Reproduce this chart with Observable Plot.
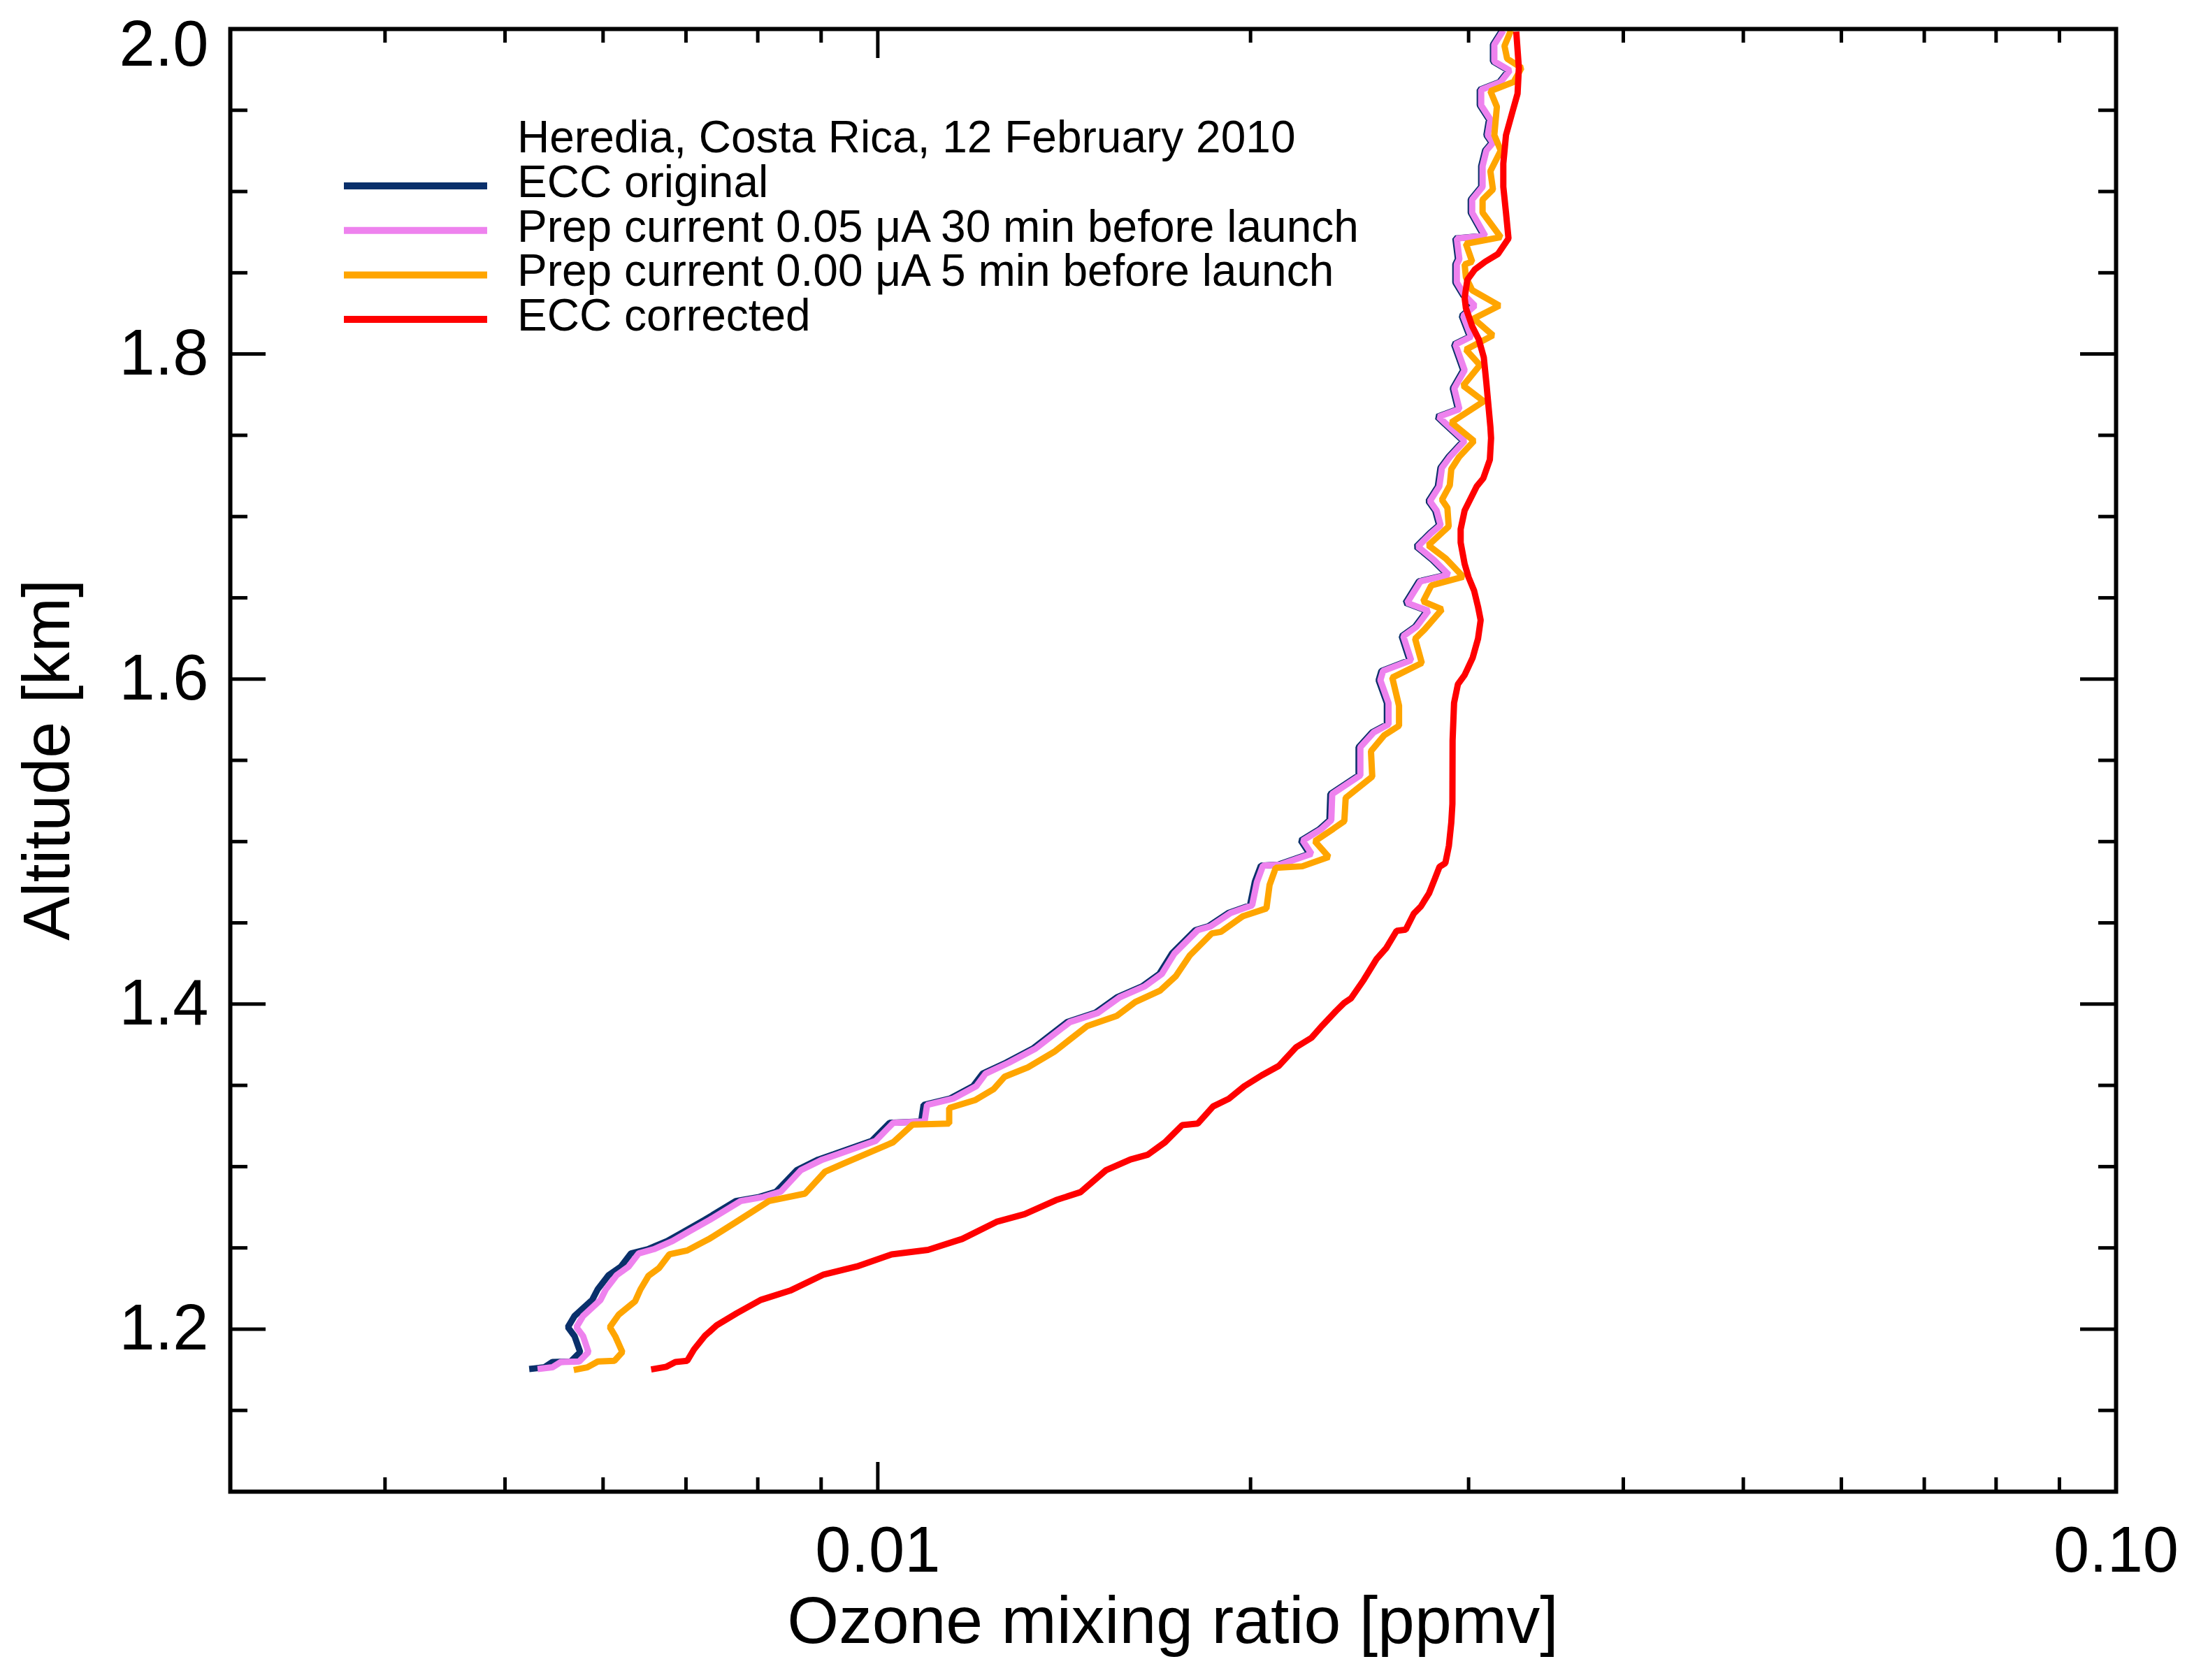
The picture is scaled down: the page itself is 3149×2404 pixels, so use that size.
<!DOCTYPE html>
<html>
<head>
<meta charset="utf-8">
<script src="https://cdn.jsdelivr.net/npm/d3@7"></script>
<script src="https://cdn.jsdelivr.net/npm/@observablehq/plot@0.6"></script>
<style>
  body { margin: 0; background: #fff; }
  #chart svg { display: block; }
</style>
</head>
<body>
<div id="chart"></div>
<script>
// altitude [km] / ozone mixing ratio [ppmv]

// ECC original and prep current 0.05 µA share the same levels
const prepAlt = [
  1.1755, 1.1765, 1.1798, 1.1801, 1.1859, 1.1957, 1.2012, 1.2081, 1.2180, 1.2245,
  1.2331, 1.2384, 1.2466, 1.2492, 1.2542, 1.2599, 1.2673, 1.2788, 1.2813, 1.2846,
  1.2978, 1.3043, 1.3077, 1.3159, 1.3269, 1.3278, 1.3380, 1.3418, 1.3495, 1.3572,
  1.3639, 1.3726, 1.3889, 1.3946, 1.4042, 1.4109, 1.4186, 1.4311, 1.4455, 1.4478,
  1.4560, 1.4608, 1.4752, 1.4852, 1.4858, 1.4925, 1.5006, 1.5075, 1.5132, 1.5293,
  1.5408, 1.5581, 1.5672, 1.5721, 1.5853, 1.5993, 1.6050, 1.6116, 1.6264, 1.6322,
  1.6420, 1.6469, 1.6601, 1.6642, 1.6733, 1.6815, 1.6898, 1.6947, 1.7037, 1.7095,
  1.7185, 1.7300, 1.7366, 1.7465, 1.7572, 1.7614, 1.7661, 1.7789, 1.7900, 1.8059,
  1.8107, 1.8234, 1.8298, 1.8361, 1.8441, 1.8552, 1.8584, 1.8711, 1.8727, 1.8870,
  1.8950, 1.9029, 1.9156, 1.9252, 1.9300, 1.9347, 1.9443, 1.9531, 1.9626, 1.9674,
  1.9745, 1.9801, 1.9904, 1.9991
];

const originalPpmv = [
  0.00523, 0.00538, 0.00546, 0.00565, 0.00575, 0.00569, 0.00562, 0.00569, 0.00588, 0.00594,
  0.00606, 0.00620, 0.00632, 0.00652, 0.00676, 0.00697, 0.00725, 0.00768, 0.00802, 0.00828,
  0.00860, 0.00895, 0.00922, 0.00989, 0.01022, 0.01084, 0.01089, 0.01143, 0.01194, 0.01215,
  0.01269, 0.01334, 0.01422, 0.01498, 0.01560, 0.01635, 0.01688, 0.01728, 0.01805, 0.01848,
  0.01919, 0.01998, 0.02016, 0.02039, 0.02106, 0.02232, 0.02196, 0.02272, 0.02316, 0.02320,
  0.02445, 0.02445, 0.02507, 0.02577, 0.02577, 0.02538, 0.02551, 0.02688, 0.02649, 0.02715,
  0.02776, 0.02668, 0.02735, 0.02883, 0.02805, 0.02722, 0.02791, 0.02840, 0.02819, 0.02784,
  0.02833, 0.02847, 0.02889, 0.02970, 0.02868, 0.02830, 0.02941, 0.02913, 0.02970, 0.02920,
  0.03006, 0.02962, 0.03027, 0.02970, 0.02927, 0.02927, 0.02941, 0.02927, 0.03086, 0.03012,
  0.03012, 0.03071, 0.03071, 0.03093, 0.03131, 0.03101, 0.03116, 0.03063, 0.03063, 0.03177,
  0.03231, 0.03139, 0.03139, 0.03192
];

const prep05Ppmv = [
  0.005312, 0.005460, 0.005548, 0.005739, 0.005839, 0.005781, 0.005710, 0.005781, 0.005972, 0.006031,
  0.006152, 0.006290, 0.006411, 0.006594, 0.006827, 0.007034, 0.007319, 0.007750, 0.008085, 0.008349,
  0.008667, 0.009020, 0.009292, 0.009963, 0.01029, 0.01091, 0.01096, 0.01150, 0.01201, 0.01222,
  0.01276, 0.01341, 0.01429, 0.01506, 0.01568, 0.01643, 0.01696, 0.01736, 0.01813, 0.01856,
  0.01927, 0.02006, 0.02024, 0.02047, 0.02114, 0.02240, 0.02204, 0.02280, 0.02324, 0.02328,
  0.02453, 0.02453, 0.02515, 0.02585, 0.02585, 0.02546, 0.02559, 0.02696, 0.02657, 0.02723,
  0.02784, 0.02676, 0.02743, 0.02891, 0.02813, 0.02730, 0.02799, 0.02848, 0.02827, 0.02792,
  0.02841, 0.02855, 0.02897, 0.02978, 0.02876, 0.02838, 0.02949, 0.02921, 0.02978, 0.02928,
  0.03014, 0.02970, 0.03035, 0.02978, 0.02935, 0.02935, 0.02949, 0.02935, 0.03094, 0.03020,
  0.03020, 0.03079, 0.03079, 0.03101, 0.03139, 0.03109, 0.03124, 0.03071, 0.03071, 0.03185,
  0.03239, 0.03147, 0.03147, 0.03200
];

const prep00Alt = [
  1.1749, 1.1765, 1.1801, 1.1805, 1.1859, 1.1957, 1.2012, 1.2089, 1.2172, 1.2245,
  1.2328, 1.2377, 1.2460, 1.2484, 1.2558, 1.2657, 1.2788, 1.2834, 1.2969, 1.3019,
  1.3150, 1.3259, 1.3265, 1.3361, 1.3409, 1.3476, 1.3553, 1.3611, 1.3706, 1.3865,
  1.3927, 1.4013, 1.4084, 1.4173, 1.4301, 1.4435, 1.4445, 1.4541, 1.4589, 1.4733,
  1.4839, 1.4848, 1.4906, 1.5002, 1.5079, 1.5126, 1.5269, 1.5400, 1.5556, 1.5655,
  1.5713, 1.5836, 1.6009, 1.6099, 1.6248, 1.6305, 1.6429, 1.6478, 1.6576, 1.6629,
  1.6741, 1.6823, 1.6939, 1.7054, 1.7103, 1.7193, 1.7292, 1.7366, 1.7465, 1.7579,
  1.7709, 1.7805, 1.7932, 1.8027, 1.8115, 1.8218, 1.8298, 1.8393, 1.8472, 1.8552,
  1.8568, 1.8679, 1.8719, 1.8870, 1.8950, 1.9013, 1.9125, 1.9252, 1.9347, 1.9522,
  1.9618, 1.9674, 1.9761, 1.9817, 1.9896, 1.9991
];

const prep00Ppmv = [
  0.005682, 0.005826, 0.005942, 0.006128, 0.006219, 0.006137, 0.006076, 0.006177, 0.006369, 0.006432,
  0.006529, 0.006660, 0.006787, 0.007016, 0.007319, 0.007676, 0.008166, 0.008734, 0.009066, 0.009386,
  0.01029, 0.01067, 0.01142, 0.01142, 0.01198, 0.01240, 0.01266, 0.01322, 0.01388, 0.01476,
  0.01559, 0.01614, 0.01691, 0.01741, 0.01787, 0.01861, 0.01893, 0.01972, 0.02060, 0.02072,
  0.02096, 0.02202, 0.02313, 0.02254, 0.02333, 0.02381, 0.02387, 0.02508, 0.02502, 0.02565,
  0.02636, 0.02636, 0.02603, 0.02750, 0.02716, 0.02764, 0.02855, 0.02757, 0.02799, 0.02970,
  0.02876, 0.02784, 0.02891, 0.02884, 0.02855, 0.02897, 0.02905, 0.02947, 0.03030, 0.02905,
  0.03086, 0.02970, 0.03064, 0.02985, 0.03139, 0.03028, 0.03177, 0.03020, 0.02985, 0.02978,
  0.03020, 0.02985, 0.03185, 0.03079, 0.03079, 0.03139, 0.03124, 0.03185, 0.03147, 0.03162,
  0.03124, 0.03262, 0.03310, 0.03223, 0.03207, 0.03246
];

const correctedAlt = [
  1.1752, 1.1768, 1.1798, 1.1805, 1.1875, 1.1957, 1.2024, 1.2098, 1.2180, 1.2237,
  1.2336, 1.2386, 1.2460, 1.2488, 1.2555, 1.2660, 1.2708, 1.2794, 1.2843, 1.2977,
  1.3044, 1.3073, 1.3150, 1.3255, 1.3265, 1.3371, 1.3418, 1.3495, 1.3562, 1.3620,
  1.3735, 1.3793, 1.3869, 1.3957, 1.4007, 1.4036, 1.4150, 1.4279, 1.4343, 1.4451,
  1.4458, 1.4558, 1.4601, 1.4681, 1.4773, 1.4845, 1.4867, 1.4974, 1.5117, 1.5232,
  1.5622, 1.5853, 1.5968, 1.6025, 1.6132, 1.6248, 1.6363, 1.6445, 1.6544, 1.6626,
  1.6708, 1.6840, 1.6922, 1.7037, 1.7185, 1.7235, 1.7350, 1.7482, 1.7553, 1.7820,
  1.7979, 1.8091, 1.8171, 1.8282, 1.8345, 1.8457, 1.8520, 1.8568, 1.8616, 1.8711,
  1.8870, 1.9029, 1.9172, 1.9347, 1.9491, 1.9602, 1.9761, 1.9984
];

const correctedPpmv = [
  0.006561, 0.006745, 0.006863, 0.007016, 0.007105, 0.007247, 0.007412, 0.007694, 0.008044, 0.008496,
  0.009043, 0.009621, 0.01026, 0.01098, 0.01170, 0.01247, 0.01314, 0.01393, 0.01458, 0.01528,
  0.01600, 0.01652, 0.01706, 0.01761, 0.01813, 0.01866, 0.01921, 0.01977, 0.02042, 0.02108,
  0.02177, 0.02240, 0.02286, 0.02344, 0.02380, 0.02411, 0.02469, 0.02529, 0.02573, 0.02624,
  0.02669, 0.02710, 0.02745, 0.02787, 0.02818, 0.02842, 0.02873, 0.02892, 0.02905, 0.02911,
  0.02912, 0.02920, 0.02941, 0.02978, 0.03023, 0.03053, 0.03068, 0.03053, 0.03031, 0.03000,
  0.02978, 0.02956, 0.02956, 0.02978, 0.03045, 0.03083, 0.03121, 0.03128, 0.03124, 0.03101,
  0.03086, 0.03057, 0.03020, 0.02985, 0.02978, 0.02993, 0.03035, 0.03094, 0.03169, 0.03231,
  0.03216, 0.03200, 0.03200, 0.03216, 0.03255, 0.03286, 0.03294, 0.03278
];

const seriesNames = [
  "ECC original",
  "Prep current 0.05 \u03bcA 30 min before launch",
  "Prep current 0.00 \u03bcA 5 min before launch",
  "ECC corrected"
];
const seriesColors = ["#0a306b", "#ee82ee", "#ffa500", "#ff0000"];
const legendTitle = "Heredia, Costa Rica, 12 February 2010";

const xMajor = [0.01, 0.1];
const xMinor = [0.004, 0.005, 0.006, 0.007, 0.008, 0.009, 0.02, 0.03, 0.04, 0.05, 0.06, 0.07, 0.08, 0.09];
const yMajor = [1.2, 1.4, 1.6, 1.8, 2.0];
const yMinor = [1.15, 1.25, 1.3, 1.35, 1.45, 1.5, 1.55, 1.65, 1.7, 1.75, 1.85, 1.9, 1.95];

const profile = (alt, ppmv) => alt.map((a, i) => ({alt: a, ppmv: ppmv[i]}));
const series = [
  profile(prepAlt, originalPpmv),
  profile(prepAlt, prep05Ppmv),
  profile(prep00Alt, prep00Ppmv),
  profile(correctedAlt, correctedPpmv)
];

const W = 3149, H = 2404;
const mL = 329, mR = 122, mT = 41, mB = 270;
const frameW = W - mL - mR, frameH = H - mT - mB;
const font = "'Liberation Sans', Arial, Helvetica, sans-serif";

const tickStyle = {stroke: "black", strokeWidth: 5};

const chart = Plot.plot({
  width: W,
  height: H,
  marginLeft: mL,
  marginRight: mR,
  marginTop: mT,
  marginBottom: mB,
  style: {fontFamily: font, background: "white", color: "black"},
  x: {type: "log", domain: [0.003, 0.1]},
  y: {domain: [1.1, 2.0]},
  marks: [
    ...series.map((d, i) => Plot.line(d, {
      x: "ppmv", y: "alt",
      stroke: seriesColors[i], strokeWidth: 9,
      strokeLinejoin: "miter", strokeLinecap: "butt",
      clip: true
    })),
    // inward ticks on all four sides
    Plot.tickX(xMajor, {x: (d) => d, insetTop: frameH - 42, ...tickStyle}),
    Plot.tickX(xMinor, {x: (d) => d, insetTop: frameH - 20, ...tickStyle}),
    Plot.tickX(xMajor, {x: (d) => d, insetBottom: frameH - 42, ...tickStyle}),
    Plot.tickX(xMinor, {x: (d) => d, insetBottom: frameH - 20, ...tickStyle}),
    Plot.tickY(yMajor, {y: (d) => d, insetRight: frameW - 51, ...tickStyle}),
    Plot.tickY(yMinor, {y: (d) => d, insetRight: frameW - 25, ...tickStyle}),
    Plot.tickY(yMajor, {y: (d) => d, insetLeft: frameW - 51, ...tickStyle}),
    Plot.tickY(yMinor, {y: (d) => d, insetLeft: frameW - 25, ...tickStyle}),
    Plot.axisX(xMajor, {
      tickSize: 0, tickPadding: 49, fontSize: 92,
      tickFormat: d3.format(".2f"), label: null
    }),
    Plot.axisY(yMajor.slice(0, 4), {
      tickSize: 0, tickPadding: 31, fontSize: 92,
      tickFormat: d3.format(".1f"), label: null
    }),
    Plot.axisY([2.0], {
      tickSize: 0, tickPadding: 31, fontSize: 92, dy: 23,
      tickFormat: d3.format(".1f"), label: null
    }),
    Plot.frame({stroke: "black", strokeWidth: 6})
  ]
});

document.getElementById("chart").appendChild(chart);

// axis titles and in-plot legend
const svg = d3.select(chart);

svg.append("text")
  .attr("x", mL + frameW / 2).attr("y", 2351)
  .attr("text-anchor", "middle")
  .attr("font-family", font).attr("font-size", 95)
  .attr("fill", "black")
  .text("Ozone mixing ratio [ppmv]");

svg.append("text")
  .attr("transform", `translate(99,${mT + frameH / 2}) rotate(-90)`)
  .attr("text-anchor", "middle")
  .attr("font-family", font).attr("font-size", 94)
  .attr("fill", "black")
  .text("Altitude [km]");

const legend = svg.append("g")
  .attr("text-anchor", "start")
  .attr("font-family", font).attr("font-size", 64).attr("fill", "black");

legend.append("text").attr("x", 740).attr("y", 218).text(legendTitle);

seriesNames.forEach((name, i) => {
  const y = 266 + i * 63.7;
  legend.append("line")
    .attr("x1", 492).attr("x2", 697)
    .attr("y1", y).attr("y2", y)
    .attr("stroke", seriesColors[i]).attr("stroke-width", 10);
  legend.append("text").attr("x", 740).attr("y", y + 16).text(name);
});
</script>
</body>
</html>
